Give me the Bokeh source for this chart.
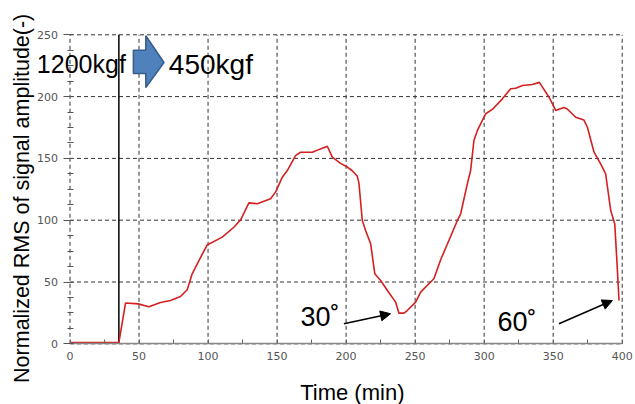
import math
from bokeh.plotting import figure
from bokeh.models import (Range1d, SingleIntervalTicker, Label, Arrow,
                          NormalHead, ColumnDataSource)
from bokeh.core.properties import value
from bokeh.embed import file_html
from bokeh.resources import INLINE

# ---- data ----
time_min = [0, 35.4, 40.2, 49.4, 57.1, 65.6, 72.8, 80.0, 84.9, 88.5,
            94.6, 99.4, 110.3, 118.7, 123.6, 129.6, 135.6, 145.3, 148.9, 153.8,
            157.4, 163.4, 167.0, 175.5, 181.5, 186.4, 190.0, 196.0, 200.9, 204.5,
            208.1, 209.3, 211.7, 214.1, 217.8, 220.8, 225.0, 229.9, 235.9, 238.3,
            241.9, 244.3, 250.4, 254.0, 263.6, 268.5, 273.3, 280.6, 283.0, 287.8,
            290.2, 292.6, 295.1, 301.1, 305.9, 313.2, 319.2, 322.8, 327.7, 334.9,
            340.0, 347.0, 351.8, 357.8, 360.2, 366.3, 372.3, 374.8, 379.6, 384.4,
            388.0, 391.7, 394.6, 396.0, 397.7]
rms = [1, 1, 33, 32.3, 29.9, 33.4, 35, 38.3, 43.7, 56.6,
       70, 80, 86.3, 94.3, 100.3, 114, 113.3, 117.3, 122.7, 134.8,
       140.2, 152.3, 155, 155, 157.7, 159.8, 151, 146, 143, 140,
       135.5, 130, 100, 91.7, 80.9, 56.6, 51.2, 43.1, 33.7, 24.8,
       24.8, 26.9, 33.7, 41.8, 52.6, 68, 80.5, 99.8, 105.2, 129.4,
       140.2, 164.5, 172.6, 186.1, 189.6, 198.2, 206.3, 206.8, 209, 209.8,
       211.5, 199.5, 188.8, 191.2, 190, 183.3, 181, 175.2, 155, 145.6,
       137.5, 107.8, 97, 70, 35]
load_change_time = 35.4
x_ticks = [0, 50, 100, 150, 200, 250, 300, 350, 400]
y_ticks = [0, 50, 100, 150, 200, 250]
y_tick_labels = ["0", "50", "100", "150", "200", "250"]
load_before = "1200kgf"
load_after = "450kgf"
angle_labels = ["30˚", "60˚"]
x_title = "Time (min)"
y_title = "Normalized RMS of signal amplitude(-)"

FONT = "Liberation Sans"

# ---- layout: frame fills the canvas, axes sit at data zero ----
W, H = 635, 404
PLOT_L, PLOT_R, PLOT_T, PLOT_B = 69.5, 621.7, 34.3, 343.3   # pixels of axis box
xs = (PLOT_R - PLOT_L) / (x_ticks[-1] - x_ticks[0])
ys = (PLOT_B - PLOT_T) / (y_ticks[-1] - y_ticks[0])
x_start = x_ticks[0] - PLOT_L / xs
x_end = x_start + W / xs
y_end = y_ticks[-1] + PLOT_T / ys
y_start = y_end - H / ys

p = figure(width=W, height=H,
           x_range=Range1d(x_start, x_end), y_range=Range1d(y_start, y_end),
           output_backend="svg", toolbar_location=None)
p.min_border = 0
p.min_border_left = 0
p.min_border_right = 0
p.min_border_top = 0
p.min_border_bottom = 0
p.outline_line_color = None
p.background_fill_color = "white"
p.border_fill_color = "white"
p.xgrid.visible = False
p.ygrid.visible = False

p.xaxis.ticker = SingleIntervalTicker(interval=50, num_minor_ticks=2)
p.yaxis.ticker = SingleIntervalTicker(interval=50, num_minor_ticks=4)
p.xaxis.fixed_location = 0
p.yaxis.fixed_location = 0
p.xaxis.bounds = (x_ticks[0], x_ticks[-1])
p.yaxis.bounds = (y_ticks[0], y_ticks[-1])

# dashed grid limited to the axis box
nx, ny = len(x_ticks), len(y_ticks)
p.segment(x0=x_ticks, y0=[y_ticks[0]] * nx, x1=x_ticks, y1=[y_ticks[-1]] * nx,
          line_color="#333333", line_dash="4 3", line_width=1, level="underlay")
p.segment(x0=[x_ticks[0]] * ny, y0=y_ticks, x1=[x_ticks[-1]] * ny, y1=y_ticks,
          line_color="#333333", line_dash="4 3", line_width=1, level="underlay")

# axes
p.xaxis.axis_line_color = "#888888"
p.xaxis.axis_line_width = 1.5
p.xaxis.major_tick_out = 0
p.xaxis.major_tick_in = 0
p.xaxis.minor_tick_in = 4
p.xaxis.minor_tick_out = 0
p.xaxis.minor_tick_line_color = "#666666"
p.xaxis.major_label_standoff = 8
p.xaxis.major_label_text_font = "DejaVu Sans"
p.xaxis.major_label_text_font_size = "11px"
p.xaxis.major_label_text_color = "#555555"

p.yaxis.axis_line_color = None
p.yaxis.major_tick_out = 7
p.yaxis.major_tick_in = 2
p.yaxis.major_tick_line_color = "#555555"
p.yaxis.minor_tick_in = 3
p.yaxis.minor_tick_out = 3
p.yaxis.minor_tick_line_color = "#555555"
p.yaxis.major_label_text_color = None

# y tick labels placed at the tick values
p.text(x=[x_ticks[0]] * ny, y=y_ticks, text=y_tick_labels,
       text_font=value("DejaVu Sans"), text_font_size="11px",
       text_color="#555555", text_align="right", text_baseline="middle",
       x_offset=-12)

# load change line
p.segment(x0=[load_change_time], y0=[y_ticks[0]], x1=[load_change_time],
          y1=[y_ticks[-1]], line_color="black", line_width=1.5)

# data curve
src = ColumnDataSource(dict(t=time_min, r=rms))
p.line("t", "r", source=src, line_color="#d42020", line_width=1.6)

# blue block arrow
p.patch([45.9, 54.9, 54.9, 68.1, 54.9, 54.9, 45.9],
        [218.7, 218.7, 207.4, 227.6, 249.2, 237.6, 237.6],
        fill_color="#4f81bd", line_color="#385d8a", line_width=1.5)

# texts
p.add_layout(Label(x=-24, y=226.2, text=load_before, text_font=FONT,
                   text_font_size="25px", text_color="black",
                   text_baseline="alphabetic"))
p.add_layout(Label(x=71.6, y=226.2, text=load_after, text_font=FONT,
                   text_font_size="28px", text_color="black",
                   text_baseline="alphabetic"))
p.add_layout(Label(x=167, y=21.3, text=angle_labels[0], text_font=FONT,
                   text_font_size="27px", text_color="black",
                   text_baseline="alphabetic"))
p.add_layout(Label(x=309.6, y=17.3, text=angle_labels[1], text_font=FONT,
                   text_font_size="27px", text_color="black",
                   text_baseline="alphabetic"))

p.add_layout(Arrow(x_start=198.4, y_start=16.2, x_end=232.2, y_end=24.3,
                   line_color="black", line_width=1.5,
                   end=NormalHead(size=10, fill_color="black", line_color="black")))
p.add_layout(Arrow(x_start=354.2, y_start=16.2, x_end=392.9, y_end=35,
                   line_color="black", line_width=1.5,
                   end=NormalHead(size=10, fill_color="black", line_color="black")))

# axis titles
p.add_layout(Label(x=204.5, y=-39.4, text=x_title, text_font=FONT,
                   text_font_size="22px", text_color="black",
                   text_align="center", text_baseline="alphabetic"))
p.add_layout(Label(x=-34.8, y=117.7, text=y_title,
                   text_font=FONT, text_font_size="21.5px", text_color="black",
                   text_align="center", text_baseline="alphabetic",
                   angle=math.pi / 2))

open("out.html", "w").write(file_html(p, INLINE))
